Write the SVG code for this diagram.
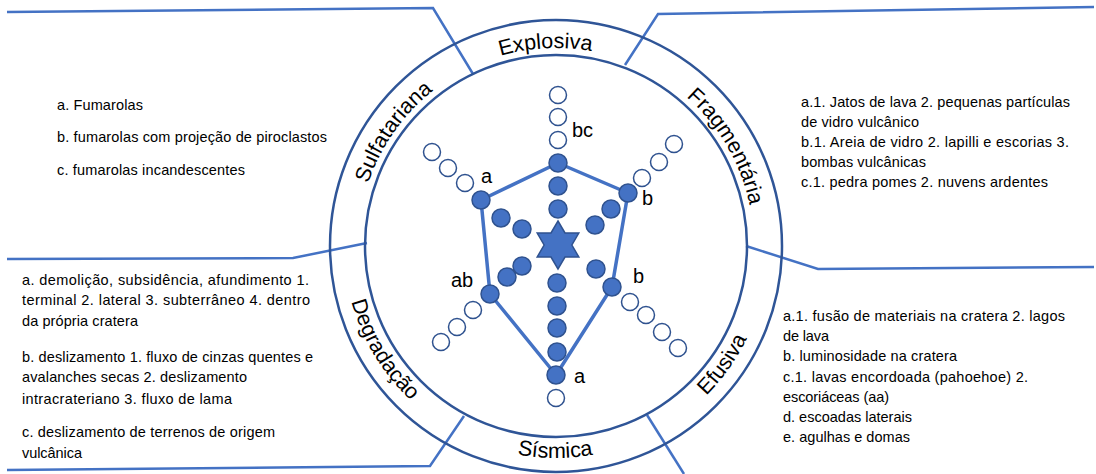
<svg xmlns="http://www.w3.org/2000/svg" xmlns:xlink="http://www.w3.org/1999/xlink" width="1096" height="474" viewBox="0 0 1096 474">
<style>
.ring{fill:none;stroke:#2F5597;stroke-width:2.5}
.con{fill:none;stroke:#4472C4;stroke-width:2.5;stroke-linejoin:miter}
.fd{fill:#4472C4;stroke:#2F528F;stroke-width:1.5}
.od{fill:#fff;stroke:#2F528F;stroke-width:1.5}
.poly{fill:none;stroke:#4472C4;stroke-width:3.5;stroke-linejoin:round}
.rl{font-family:"Liberation Sans",Arial,sans-serif;font-size:21.5px;fill:#000}
.lb{font-family:"Liberation Sans",Arial,sans-serif;font-size:20px;fill:#000}
.tx{font-family:"Liberation Sans",Arial,sans-serif;font-size:14.5px;fill:#000}
</style>
<defs>
<path id="cw" d="M358,246 A198,198 0 1 1 754,246 A198,198 0 1 1 358,246"/>
<path id="ccw" d="M344,246 A212,212 0 1 0 768,246 A212,212 0 1 0 344,246"/>
</defs>
<rect width="1096" height="474" fill="#fff"/>
<g id="connectors">
<polyline class="con" points="7,12 433,8 473,74"/>
<polyline class="con" points="1094,7 658,14 625,65"/>
<polyline class="con" points="7,259 293,258 367,243"/>
<polyline class="con" points="746,246 818,269 1094,267"/>
<polyline class="con" points="464,416 430,466 7,470"/>
<polyline class="con" points="647,415 684,474"/>
</g>
<g id="ring">
<circle class="ring" cx="556" cy="246" r="226"/>
<circle class="ring" cx="556" cy="246" r="191"/>
</g>
<g id="ring-labels">
<text class="rl"><textPath xlink:href="#cw" href="#cw" startOffset="300.6" text-anchor="middle">Explosiva</textPath></text>
<text class="rl"><textPath xlink:href="#cw" href="#cw" startOffset="121" text-anchor="middle">Sulfatariana</textPath></text>
<text class="rl"><textPath xlink:href="#cw" href="#cw" startOffset="517" text-anchor="middle">Fragmentária</textPath></text>
<text class="rl"><textPath xlink:href="#ccw" href="#ccw" startOffset="332" text-anchor="middle">Sísmica</textPath></text>
<text class="rl"><textPath xlink:href="#ccw" href="#ccw" startOffset="114.7" text-anchor="middle">Degradação</textPath></text>
<text class="rl"><textPath xlink:href="#ccw" href="#ccw" startOffset="535" text-anchor="middle">Efusiva</textPath></text>
</g>
<g id="polygon">
<polygon class="poly" points="558,163 628,193 612,287 556,375 490,294 481,200"/>
</g>
<g id="spokes">
<circle class="od" cx="558" cy="95" r="8.5"/>
<circle class="od" cx="558" cy="117" r="8.5"/>
<circle class="od" cx="558" cy="140" r="8.5"/>
<circle class="fd" cx="558" cy="163" r="9"/>
<circle class="fd" cx="558" cy="186" r="9"/>
<circle class="fd" cx="558" cy="209" r="9"/>
<circle class="fd" cx="557" cy="283" r="9"/>
<circle class="fd" cx="557" cy="306" r="9"/>
<circle class="fd" cx="557" cy="328" r="9"/>
<circle class="fd" cx="557" cy="352" r="9"/>
<circle class="fd" cx="556" cy="375" r="9"/>
<circle class="od" cx="556" cy="398" r="8.5"/>
<circle class="od" cx="432" cy="152" r="8.5"/>
<circle class="od" cx="448" cy="168" r="8.5"/>
<circle class="od" cx="465" cy="183" r="8.5"/>
<circle class="fd" cx="481" cy="200" r="9"/>
<circle class="fd" cx="501" cy="218" r="9"/>
<circle class="fd" cx="522" cy="229" r="9"/>
<circle class="od" cx="674" cy="144" r="8.5"/>
<circle class="od" cx="659" cy="162" r="8.5"/>
<circle class="od" cx="642" cy="178" r="8.5"/>
<circle class="fd" cx="628" cy="193" r="9"/>
<circle class="fd" cx="611" cy="209" r="9"/>
<circle class="fd" cx="595" cy="225" r="9"/>
<circle class="fd" cx="596" cy="269" r="9"/>
<circle class="fd" cx="612" cy="287" r="9"/>
<circle class="od" cx="630" cy="302" r="8.5"/>
<circle class="od" cx="646" cy="315" r="8.5"/>
<circle class="od" cx="662" cy="332" r="8.5"/>
<circle class="od" cx="678" cy="348" r="8.5"/>
<circle class="fd" cx="522" cy="266" r="9"/>
<circle class="fd" cx="507" cy="277" r="9"/>
<circle class="fd" cx="490" cy="294" r="9"/>
<circle class="od" cx="473" cy="310" r="8.5"/>
<circle class="od" cx="457" cy="327" r="8.5"/>
<circle class="od" cx="441" cy="342" r="8.5"/>
</g>
<g id="star">
<polygon class="fd" points="558,221 565,233 578.8,233 571.9,245 578.8,257 565,257 558,269 551,257 537.2,257 544.1,245 537.2,233 551,233"/>
</g>
<g id="vertex-labels">
<text class="lb" x="572" y="137">bc</text>
<text class="lb" x="481" y="183">a</text>
<text class="lb" x="642" y="205">b</text>
<text class="lb" x="633" y="283">b</text>
<text class="lb" x="451" y="287">ab</text>
<text class="lb" x="574" y="383">a</text>
</g>
<g id="sulfatariana-text">
<text class="tx" x="57" y="110" textLength="86">a. Fumarolas</text>
<text class="tx" x="57" y="142" textLength="270">b. fumarolas com projeção de piroclastos</text>
<text class="tx" x="57" y="175" textLength="188">c. fumarolas incandescentes</text>
</g>
<g id="fragmentaria-text">
<text class="tx" x="801" y="107" textLength="269">a.1. Jatos de lava 2. pequenas partículas</text>
<text class="tx" x="801" y="127" textLength="118">de vidro vulcânico</text>
<text class="tx" x="801" y="147" textLength="268">b.1. Areia de vidro 2. lapilli e escorias 3.</text>
<text class="tx" x="801" y="167" textLength="125">bombas vulcânicas</text>
<text class="tx" x="801" y="187" textLength="247">c.1. pedra pomes 2. nuvens ardentes</text>
</g>
<g id="degradacao-text">
<text class="tx" x="22" y="285" textLength="287">a. demolição, subsidência, afundimento 1.</text>
<text class="tx" x="22" y="305" textLength="288">terminal 2. lateral 3. subterrâneo 4. dentro</text>
<text class="tx" x="22" y="326" textLength="116">da própria cratera</text>
<text class="tx" x="22" y="362" textLength="291">b. deslizamento 1. fluxo de cinzas quentes e</text>
<text class="tx" x="22" y="382" textLength="225">avalanches secas 2. deslizamento</text>
<text class="tx" x="22" y="404" textLength="210">intracrateriano 3. fluxo de lama</text>
<text class="tx" x="22" y="437" textLength="253">c. deslizamento de terrenos de origem</text>
<text class="tx" x="22" y="458" textLength="60">vulcânica</text>
</g>
<g id="efusiva-text">
<text class="tx" x="783" y="321" textLength="282">a.1. fusão de materiais na cratera 2. lagos</text>
<text class="tx" x="783" y="341" textLength="46">de lava</text>
<text class="tx" x="783" y="361" textLength="174">b. luminosidade na cratera</text>
<text class="tx" x="783" y="382" textLength="245">c.1. lavas encordoada (pahoehoe) 2.</text>
<text class="tx" x="783" y="402" textLength="106">escoriáceas (aa)</text>
<text class="tx" x="783" y="422" textLength="129">d. escoadas laterais</text>
<text class="tx" x="783" y="442" textLength="127">e. agulhas e domas</text>
</g>
</svg>
